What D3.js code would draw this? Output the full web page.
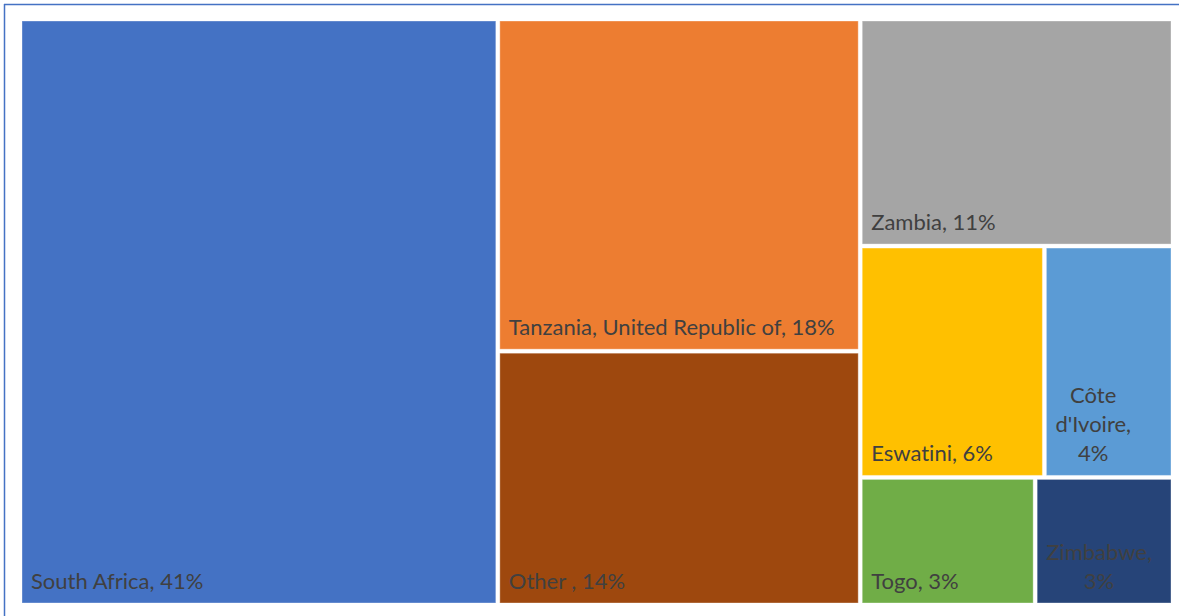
<!DOCTYPE html>
<html>
<head>
<meta charset="utf-8">
<script src="https://cdn.jsdelivr.net/npm/d3@7"></script>
<style>
  body { margin: 0; background: #fff; }
  svg { display: block; }
  text { font-variant-ligatures: none; font-feature-settings: "liga" 0; }
</style>
</head>
<body>
<div id="chart"></div>
<script>
// Share of total by country (percent)
var countries = ["South Africa", "Tanzania, United Republic of", "Other ", "Zambia",
                 "Eswatini", "Côte d'Ivoire", "Togo", "Zimbabwe"];
var shares = [41.4, 17.8, 13.6, 10.5, 6.3, 4.4, 3.3, 2.6];
var labels = ["41%", "18%", "14%", "11%", "6%", "4%", "3%", "3%"];
var colors = ["#4472C4", "#ED7D31", "#9E480E", "#A5A5A5",
              "#FFC000", "#5B9BD5", "#70AD47", "#264478"];

var svgWidth = 1179;
var svgHeight = 616;

var plot = { left: 22, top: 21, right: 1171, bottom: 603 };

var svg = d3.select("#chart")
    .append("svg")
    .attr("width", svgWidth)
    .attr("height", svgHeight);

// outer frame lines (top / left, as in the reference)
svg.append("line")
    .attr("x1", 4).attr("x2", svgWidth).attr("y1", 4.5).attr("y2", 4.5)
    .attr("stroke", "#4472C4").attr("stroke-width", 1.5);
svg.append("line")
    .attr("x1", 4.5).attr("x2", 4.5).attr("y1", 4).attr("y2", svgHeight)
    .attr("stroke", "#4472C4").attr("stroke-width", 1.5);

var rootData = {
    name: "root",
    children: countries.map(function (c, i) {
        return { name: c, value: shares[i], label: labels[i], color: colors[i] };
    })
};

var root = d3.hierarchy(rootData)
    .sum(function (d) { return d.value || 0; })
    .sort(function (a, b) { return b.value - a.value; });

d3.treemap()
    .tile(d3.treemapSquarify.ratio(1))
    .size([plot.right - plot.left, plot.bottom - plot.top])
    .paddingInner(4)
    .round(false)(root);

var g = svg.append("g")
    .attr("transform", `translate(${plot.left}, ${plot.top})`);

var cells = g.selectAll("g.cell")
    .data(root.leaves())
    .enter()
    .append("g")
    .attr("class", "cell")
    .attr("transform", d => `translate(${d.x0}, ${d.y0})`);

cells.append("rect")
    .attr("width", d => d.x1 - d.x0)
    .attr("height", d => d.y1 - d.y0)
    .attr("fill", d => d.data.color)
    .attr("stroke", "rgba(255,255,255,0.35)")
    .attr("stroke-width", 1);

var fontSize = 22;
var lineHeight = 29;
var padX = 9;
var padBottom = 14;

cells.each(function (d) {
    var cell = d3.select(this);
    var w = d.x1 - d.x0;
    var h = d.y1 - d.y0;
    var full = d.data.name + ", " + d.data.label;

    var t = cell.append("text")
        .attr("font-family", "Lato, 'Open Sans', sans-serif")
        .attr("font-size", fontSize)
        .attr("fill", "#404040");

    // test if it fits on one line
    t.text(full);
    var fullW = t.node().getComputedTextLength();
    if (fullW <= w - 2 * padX) {
        t.attr("x", padX).attr("y", h - padBottom);
        return;
    }

    // wrap word by word
    var words = full.split(" ");
    var lines = [];
    var cur = "";
    words.forEach(function (wd) {
        var test = cur ? cur + " " + wd : wd;
        t.text(test);
        if (t.node().getComputedTextLength() > w - 2 * padX && cur) {
            lines.push(cur);
            cur = wd;
        } else {
            cur = test;
        }
    });
    if (cur) lines.push(cur);

    var widths = lines.map(function (l) {
        t.text(l);
        return t.node().getComputedTextLength();
    });
    var blockW = d3.max(widths);
    t.text(null).attr("text-anchor", "middle");
    lines.forEach(function (l, i) {
        t.append("tspan")
            .attr("x", padX + blockW / 2)
            .attr("y", h - padBottom - (lines.length - 1 - i) * lineHeight)
            .text(l);
    });
});
</script>
</body>
</html>
